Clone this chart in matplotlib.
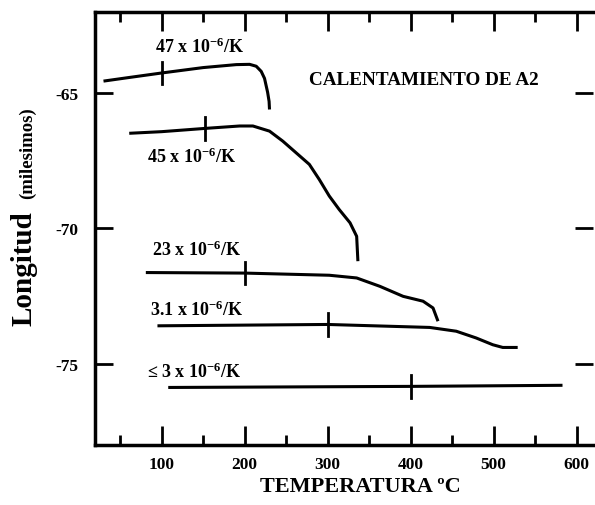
import matplotlib.pyplot as plt
from matplotlib.ticker import MultipleLocator

# datos (temperatura en C, longitud en milesimos)
t_47 = [30, 60, 100, 150, 190, 206, 214, 220, 224, 227.7, 229.5, 230]
l_47 = [-64.55, -64.42, -64.25, -64.05, -63.94, -63.93, -64.0, -64.19, -64.45, -64.96, -65.3, -65.6]

t_45 = [61, 100, 152, 194, 210, 230, 246, 262, 278, 290, 302, 314, 327, 335, 336.5]
l_45 = [-66.48, -66.42, -66.3, -66.21, -66.21, -66.4, -66.77, -67.2, -67.63, -68.19, -68.8, -69.3, -69.79, -70.29, -71.21]

t_23 = [81, 200, 302, 335, 363, 391, 415, 427, 433]
l_23 = [-71.63, -71.65, -71.73, -71.83, -72.14, -72.51, -72.69, -72.94, -73.43]

t_31 = [95, 300, 423, 455, 479, 499, 511, 529]
l_31 = [-73.6, -73.55, -73.66, -73.8, -74.05, -74.3, -74.4, -74.4]

t_3 = [108, 400, 583]
l_3 = [-75.88, -75.84, -75.8]

# marcas sobre cada curva
marca_t = [100, 152, 200, 300, 400]
marca_l = [-64.25, -66.3, -71.65, -73.55, -75.84]

etiquetas = ['47 x 10$^{-6}$/K', '45 x 10$^{-6}$/K', '23 x 10$^{-6}$/K',
             '3.1 x 10$^{-6}$/K', '\u2264 3 x 10$^{-6}$/K']
etiq_x = [92, 83, 89, 86, 83]
etiq_y = [-63.26, -67.33, -70.78, -73.0, -75.3]

plt.rcParams['font.family'] = ['Liberation Serif', 'DejaVu Serif']
plt.rcParams['font.weight'] = 'bold'
plt.rcParams['axes.unicode_minus'] = False
plt.rcParams['mathtext.fontset'] = 'custom'
plt.rcParams['mathtext.rm'] = 'Liberation Serif:bold'
plt.rcParams['mathtext.it'] = 'Liberation Serif:bold'

fig = plt.figure(figsize=(5.95, 5.06), dpi=100)
ax = fig.add_axes([0.160, 0.119, 0.837, 0.855])

for t, l in [(t_47, l_47), (t_45, l_45), (t_23, l_23), (t_31, l_31), (t_3, l_3)]:
    ax.plot(t, l, color='black', lw=2.2, solid_capstyle='butt', solid_joinstyle='round')

for t, l in zip(marca_t, marca_l):
    ax.plot([t, t], [l - 0.42, l + 0.42], color='black', lw=2.0)

for s, x, y in zip(etiquetas, etiq_x, etiq_y):
    ax.text(x, y, s, fontsize=13, fontweight='bold', ha='left', va='center')

ax.text(277, -64.48, 'CALENTAMIENTO DE A2', fontsize=13.8, fontweight='bold',
        ha='left', va='center')

ax.set_xlim(20, 620)
ax.set_ylim(-78, -62)
ax.xaxis.set_minor_locator(MultipleLocator(50))
ax.set_xticks([100, 200, 300, 400, 500, 600])
ax.set_yticks([-65, -70, -75])
ax.tick_params(axis='x', which='major', direction='in', length=14, width=2,
               top=True, labelsize=12.5, pad=8)
ax.tick_params(axis='x', which='minor', direction='in', length=7, width=2, top=True)
ax.tick_params(axis='y', which='major', direction='in', length=13, width=2,
               right=True, labelsize=12.5, pad=12)
for lab in ax.get_xticklabels() + ax.get_yticklabels():
    lab.set_fontweight('bold')

for sp in ['left', 'bottom', 'top']:
    ax.spines[sp].set_linewidth(2.5)
ax.spines['right'].set_visible(False)

fig.text(0.605, 0.037, 'TEMPERATURA \u00baC', fontsize=16, fontweight='bold',
         ha='center', va='center')
fig.text(0.04, 0.47, 'Longitud', fontsize=21, fontweight='bold', rotation=90,
         ha='center', va='center')
fig.text(0.047, 0.698, '(milesimos)', fontsize=13.5, fontweight='bold', rotation=90,
         ha='center', va='center')

plt.savefig('out.png', dpi=100)
